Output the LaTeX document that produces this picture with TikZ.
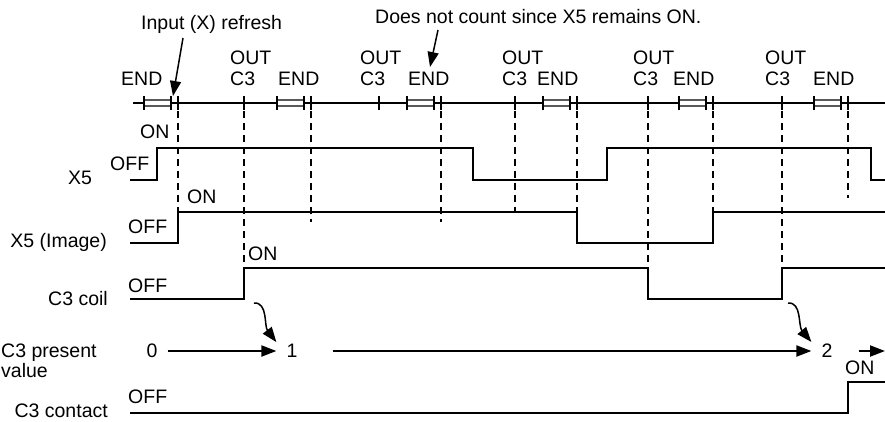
\documentclass[tikz,border=0pt]{standalone}
\usepackage{fontspec}
\setmainfont{Liberation Sans}
\usetikzlibrary{arrows.meta}

\begin{document}
\begin{tikzpicture}[x=1pt,y=-1pt,>={Triangle[length=15pt,width=11pt]},
 font=\fontsize{19.5}{20}\selectfont,
 txt/.style={inner sep=0pt,anchor=base west},
 txtr/.style={inner sep=0pt,anchor=base east},
 signal/.style={line width=2pt},
 scanline/.style={line width=2pt},
 scantick/.style={line width=2pt},
 endbox/.style={draw=black!65,fill=white,line width=1.5pt},
 refresh/.style={line width=2pt,dash pattern=on 7pt off 5pt},
 callout/.style={->,line width=1.5pt},
 pv/.style={inner xsep=10pt,inner ysep=2pt},
 pvarrow/.style={->,line width=2pt}]
\useasboundingbox (0,0) rectangle (885,421);

% scan time line
\draw[scanline] (133,103) -- (885,103);
\foreach \r/\e in {178/121,311/278,441/408,577/537,713/673,848/813}{
  \draw[endbox] (\r-34,100) rectangle (\r-7,106);
  \draw[scantick] (\r-34,96) -- (\r-34,110) (\r-7,96) -- (\r-7,110) (\r,96) -- (\r,110);
  \node[txt] (end-\r) at (\e,85) {END};
}
\foreach \o/\l in {244/230,379/360,515/502,648/633,782/765}{
  \draw[scantick] (\o,96) -- (\o,110);
  \node[txt] (out-\o) at (\l,64) {OUT};
  \node[txt] (c3-\o) at (\l,85) {C3};
}
\foreach \d/\b in {178/212,244/268,311/222,441/222,515/212,577/212,648/268,713/212,782/268,848/198}
  \draw[refresh] (\d,111) -- (\d,\b);

% signals
\draw[signal] (130,180) -| (157,148) -| (473,180) -| (607,148) -| (871,180) -- (885,180);
\draw[signal] (130,243) -| (178,212) -| (577,243) -| (713,212) -- (885,212);
\draw[signal] (130,299) -| (244,268) -| (648,299) -| (782,268) -- (885,268);
\draw[signal] (130,413) -| (848,382) -- (885,382);

% labels
\node[txt] (x5-on) at (140,138) {ON};
\node[txt] (x5-off) at (110,170) {OFF};
\node[txt] (x5) at (68,184) {X5};
\node[txt] (img-on) at (187,203) {ON};
\node[txt] (img-off) at (128,233) {OFF};
\node[txtr] (img) at (107,247) {X5 (Image)};
\node[txt] (coil-on) at (248,260) {ON};
\node[txt] (coil-off) at (128,292) {OFF};
\node[txtr] (coil) at (108,305) {C3 coil};
\node[inner sep=0pt,anchor=north west,align=left] (pvlabel) at (1,344) {C3 present\\value};
\node[txt] (cnt-on) at (845,374) {ON};
\node[txt] (cnt-off) at (128,403) {OFF};
\node[txtr] (cnt) at (108,417) {C3 contact};

% present value
\node[pv] (v0) at (152,351) {0};
\node[pv] (v1) at (292,351) {1};
\node[pv] (v2) at (827,351) {2};
\coordinate (pvend) at (885,351);
\draw[pvarrow] (v0) -- (v1);
\draw[pvarrow] ([xshift=25pt]v1.east) -- (v2);
\draw[pvarrow] ([xshift=16pt]v2.east) -- (pvend);
\coordinate (rise1) at (254,303);
\coordinate (rise2) at (788,303);
\draw[callout] (rise1) .. controls (268,302) and (264,326) .. (v1.north west);
\draw[callout] (rise2) .. controls (802,302) and (798,326) .. (v2.north west);

% notes
\node[txt] (inref) at (141,29) {Input (X) refresh};
\coordinate (refreshpt) at (173,96);
\draw[callout] ([xshift=42pt,yshift=-9pt]inref.base west) -- (refreshpt);
\node[txt] (nocount) at (375,23) {Does not count since X5 remains ON.};
\coordinate (nocountpt) at (430,67);
\draw[callout] ([xshift=63pt,yshift=-7pt]nocount.base west) -- (nocountpt);
\end{tikzpicture}
\end{document}
